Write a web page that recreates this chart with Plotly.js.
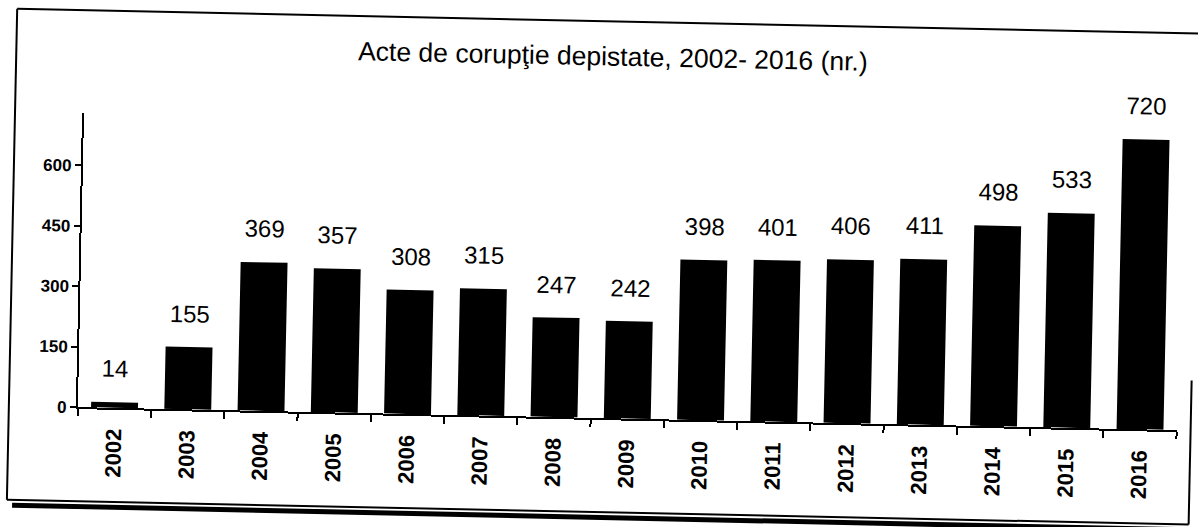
<!DOCTYPE html>
<html>
<head>
<meta charset="utf-8">
<script src="https://cdn.plot.ly/plotly-3.0.1.min.js"></script>
<style>
  html, body { margin: 0; padding: 0; background: #fff; overflow: hidden; width: 1198px; height: 527px; }
  #chart { position: absolute; left: 0; top: 0; width: 1198px; height: 560px;
           transform-origin: 599px 263.5px; transform: rotate(1.2deg); }
</style>
</head>
<body>
<div id="chart"></div>
<script>
// ---- data ----
const years = ["2002","2003","2004","2005","2006","2007","2008","2009","2010","2011","2012","2013","2014","2015","2016"];
const cases = [14, 155, 369, 357, 308, 315, 247, 242, 398, 401, 406, 411, 498, 533, 720];
const yTicks = [0, 150, 300, 450, 600];
const chartTitle = "Acte de corupţie depistate, 2002- 2016 (nr.)";

const FONT = "Liberation Sans, Arial, sans-serif";

const trace = {
  type: "bar",
  x: years,
  y: cases,
  marker: { color: "#000000", line: { width: 0 } },
  hoverinfo: "x+y"
};

// labels: x given as category index so numeric-looking names are not read as indexes
const labels = years.map((yr, i) => ({
  x: i, y: cases[i], xref: "x", yref: "y",
  text: String(cases[i]), showarrow: false,
  yanchor: "bottom", yshift: 18,
  font: { family: FONT, size: 24, color: "#000" }
}));

const frameColor = "#000";
const shapes = [
  { type: "line", xref: "paper", yref: "paper", x0: -0.0628, y0: 1.350, x1: 1.0127, y1: 1.350, line: { color: frameColor, width: 2 } },
  { type: "line", xref: "paper", yref: "paper", x0: -0.0628, y0: 1.350, x1: -0.0628, y1: -0.32, line: { color: frameColor, width: 2 } },
  { type: "line", xref: "paper", yref: "paper", x0: 1.0127, y0: 0.17, x1: 1.0127, y1: -0.32, line: { color: frameColor, width: 2 } },
  { type: "line", xref: "paper", yref: "paper", x0: -0.0628, y0: -0.32, x1: 1.0127, y1: -0.32, line: { color: frameColor, width: 2 } },
  { type: "line", xref: "paper", yref: "paper", x0: -0.058, y0: -0.338, x1: 1.0127, y1: -0.338, line: { color: frameColor, width: 5 } }
];

const layout = {
  width: 1198, height: 560,
  margin: { l: 81, r: 18, t: 124, b: 142 },
  paper_bgcolor: "#fff", plot_bgcolor: "#fff",
  showlegend: false,
  bargap: 0.36,
  title: {
    text: chartTitle,
    font: { family: FONT, size: 26.5, color: "#000" },
    x: 0.508, xref: "container", xanchor: "center",
    y: 0.90, yref: "container", yanchor: "middle"
  },
  xaxis: {
    type: "category",
    categoryorder: "array", categoryarray: years,
    range: [-0.5, years.length - 0.5], autorange: false,
    showline: true, linecolor: "#000", linewidth: 2,
    ticks: "outside", tickson: "boundaries", ticklen: 7, tickwidth: 2, tickcolor: "#000",
    tickangle: -90, ticklabelstandoff: 10,
    tickfont: { family: FONT, size: 22, color: "#000", weight: "bold" },
    showgrid: false, zeroline: false
  },
  yaxis: {
    range: [0, 730], autorange: false,
    tickvals: yTicks, ticktext: yTicks.map(String),
    showline: true, linecolor: "#000", linewidth: 2,
    ticks: "outside", ticklen: 6, tickwidth: 2, tickcolor: "#000",
    tickfont: { family: FONT, size: 17, color: "#000", weight: "bold" },
    showgrid: false, zeroline: false
  },
  annotations: labels,
  shapes: shapes
};

Plotly.newPlot("chart", [trace], layout, { displayModeBar: false, staticPlot: true });
</script>
</body>
</html>
